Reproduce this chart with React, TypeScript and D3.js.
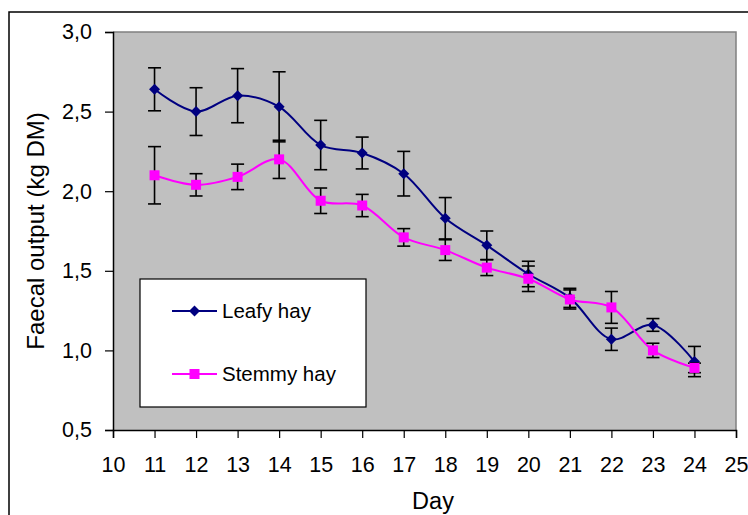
import * as d3 from 'd3';
import {useEffect, useRef} from "react";

const days = [11, 12, 13, 14, 15, 16, 17, 18, 19, 20, 21, 22, 23, 24];
const leafy = [2.64, 2.50, 2.60, 2.53, 2.29, 2.24, 2.11, 1.83, 1.66, 1.48, 1.33, 1.07, 1.16, 0.93];
const leafyErr = [0.135, 0.15, 0.17, 0.22, 0.155, 0.10, 0.14, 0.13, 0.09, 0.08, 0.06, 0.07, 0.04, 0.095];
const stemmy = [2.10, 2.04, 2.09, 2.20, 1.94, 1.91, 1.71, 1.63, 1.52, 1.45, 1.32, 1.27, 1.00, 0.89];
const stemmyErr = [0.18, 0.07, 0.08, 0.12, 0.08, 0.07, 0.055, 0.065, 0.05, 0.08, 0.06, 0.10, 0.045, 0.03];
const xTicks = [10, 11, 12, 13, 14, 15, 16, 17, 18, 19, 20, 21, 22, 23, 24, 25];
const yTicks = [0.5, 1.0, 1.5, 2.0, 2.5, 3.0];
const seriesNames = ["Leafy hay", "Stemmy hay"];

const font = "'Liberation Sans', Arial, sans-serif";
const navy = "#000080";
const magenta = "#FF00FF";

export default function App({
                                width = 748, height = 515,
                                plotLeft = 113, plotRight = 736,
                                plotTop = 32, plotBottom = 430
                            }) {
    const gx = useRef<SVGGElement>(null);
    const gy = useRef<SVGGElement>(null);

    const x = d3.scaleLinear([10, 25], [plotLeft, plotRight]);
    const y = d3.scaleLinear([0.5, 3.0], [plotBottom, plotTop]);
    const comma = d3.formatLocale({decimal: ",", thousands: ".", grouping: [3], currency: ["", ""]}).format(".1f");

    const line = d3.line<[number, number]>()
        .x(d => x(d[0]))
        .y(d => y(d[1]))
        .curve(d3.curveCatmullRom.alpha(0.5));

    const leafyPts = days.map((d, i) => [d, leafy[i]] as [number, number]);
    const stemmyPts = days.map((d, i) => [d, stemmy[i]] as [number, number]);

    useEffect(() => {
        const g = d3.select(gx.current!);
        g.call(d3.axisBottom(x).tickValues(xTicks).tickSize(8).tickPadding(19).tickFormat(d3.format("d")));
        g.select(".domain").attr("stroke", "#000").attr("stroke-width", 1.5);
        g.selectAll(".tick line").attr("stroke", "#000").attr("stroke-width", 1.2);
        g.selectAll(".tick text").attr("font-size", 21.5).attr("font-family", font).attr("fill", "#000");
        g.attr("font-family", null).attr("font-size", null);
    }, [x]);

    useEffect(() => {
        const g = d3.select(gy.current!);
        g.call(d3.axisLeft(y).tickValues(yTicks).tickSize(8).tickPadding(13).tickFormat(d => comma(d as number)));
        g.select(".domain").attr("stroke", "#000").attr("stroke-width", 1.5);
        g.selectAll(".tick line").attr("stroke", "#000").attr("stroke-width", 1.2);
        g.selectAll(".tick text").attr("font-size", 21.5).attr("font-family", font).attr("fill", "#000");
        g.attr("font-family", null).attr("font-size", null);
    }, [y]);

    const errBars = (vals: number[], errs: number[]) => days.map((d, i) => {
        const cx = x(d), top = y(vals[i] + errs[i]), bot = y(vals[i] - errs[i]);
        return (
            <g key={i}>
                <line x1={cx} x2={cx} y1={top} y2={bot}/>
                <line x1={cx - 6.5} x2={cx + 6.5} y1={top} y2={top}/>
                <line x1={cx - 6.5} x2={cx + 6.5} y1={bot} y2={bot}/>
            </g>
        );
    });

    const diamond = (cx: number, cy: number, key: number | string) =>
        <path key={key} d={`M${cx},${cy - 5.5}L${cx + 5.5},${cy}L${cx},${cy + 5.5}L${cx - 5.5},${cy}Z`} fill={navy}/>;
    const square = (cx: number, cy: number, key: number | string) =>
        <rect key={key} x={cx - 5} y={cy - 5} width={10} height={10} fill={magenta}/>;

    // legend
    const lgX = 140, lgY = 279, lgW = 226, lgH = 128;
    const lgRows = [311, 374];

    return (
        <svg width={width} height={height} style={{position: "absolute", left: 0, top: 0, background: "#fff"}}
             fontFamily={font}>
            <rect x={9} y={12} width={width} height={height} fill="none" stroke="#000" strokeWidth={1.5}/>
            <rect x={plotLeft} y={plotTop} width={plotRight - plotLeft} height={plotBottom - plotTop}
                  fill="#C0C0C0"/>
            <path d={`M${plotLeft},${plotTop}H${plotRight}V${plotBottom}`} fill="none" stroke="#808080"
                  strokeWidth={1.5}/>
            <g ref={gx} transform={`translate(0,${plotBottom})`}/>
            <g ref={gy} transform={`translate(${plotLeft},0)`}/>

            <path fill="none" stroke={navy} strokeWidth={2} d={line(leafyPts)!}/>
            <g stroke="#000" strokeWidth={1.6}>{errBars(leafy, leafyErr)}</g>
            <g>{leafyPts.map((p, i) => diamond(x(p[0]), y(p[1]), i))}</g>

            <path fill="none" stroke={magenta} strokeWidth={2} d={line(stemmyPts)!}/>
            <g stroke="#000" strokeWidth={1.6}>{errBars(stemmy, stemmyErr)}</g>
            <g>{stemmyPts.map((p, i) => square(x(p[0]), y(p[1]), i))}</g>

            <rect x={lgX} y={lgY} width={lgW} height={lgH} fill="#fff" stroke="#000" strokeWidth={1.2}/>
            {seriesNames.map((name, i) => (
                <g key={name}>
                    <line x1={172} x2={217} y1={lgRows[i]} y2={lgRows[i]} stroke={i === 0 ? navy : magenta}
                          strokeWidth={2}/>
                    {i === 0 ? diamond(194.5, lgRows[i], "m") : square(194.5, lgRows[i], "m")}
                    <text x={222} y={lgRows[i]} dy="0.33em" fontSize={20.5} fill="#000">{name}</text>
                </g>
            ))}

            <text transform={`translate(44,${(plotTop + plotBottom) / 2}) rotate(-90)`} textAnchor="middle"
                  fontSize={24} fill="#000">Faecal output (kg DM)</text>
            <text x={433} y={509} textAnchor="middle" fontSize={23.5} fill="#000">Day</text>
        </svg>
    );
}
